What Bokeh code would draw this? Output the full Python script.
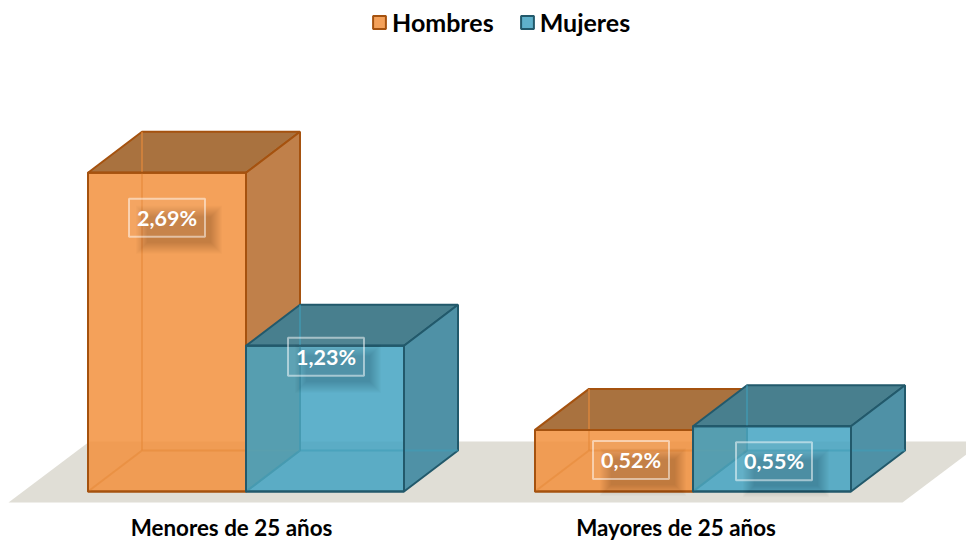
import numpy as np
from bokeh.plotting import figure
from bokeh.models import ColumnDataSource, Range1d, Legend, LegendItem
from bokeh.core.properties import value
from bokeh.embed import file_html
from bokeh.resources import INLINE

categories = ["Menores de 25 años", "Mayores de 25 años"]
hombres = [2.69, 0.52]
mujeres = [1.23, 0.55]
hombres_labels = ["2,69%", "0,52%"]
mujeres_labels = ["1,23%", "0,55%"]

W, H = 966, 541
PXX = 1 / 447.0      # one screen pixel in x data units (one unit = distance between groups)
PXY = 1 / 118.5      # one screen pixel in y data units
BAR = 158 * PXX
DX, DY = 54 * PXX, 41 * PXY
SHIFT = 15 * PXX     # boxes sit right of the category label, perspective of the floor
FONT = "Lato"

# group 0 is at screen pixel 230.5; value 0 is at screen pixel 491
x0 = -230.5 * PXX
y1 = 491 * PXY
p = figure(width=W, height=H, output_backend="svg", toolbar_location=None,
           x_range=Range1d(x0, x0 + W * PXX), y_range=Range1d(y1 - H * PXY, y1),
           x_axis_location=None, y_axis_location=None, min_border=0,
           outline_line_color=None, background_fill_color=None, border_fill_color=None)
p.grid.visible = False

# floor
fl, fr = -222.5 * PXX, (902 - 230.5) * PXX
fb, ft = -11 * PXY, 50 * PXY
fdx = 81 * PXX
p.patch([fl, fl + fdx, fr + fdx, fr], [fb, ft, ft, fb], fill_color="#E0DED6", line_color=None)


def box(vals, lefts, front, top, side, edge, inner):
    v = np.array(vals)
    l = np.array(lefts)
    r = l + BAR
    n = len(v)
    z = np.zeros(n)
    src = ColumnDataSource(dict(left=l, right=r, bottom=z, top=v))
    # top and side faces
    p.patches([[a, a + DX, b + DX, b] for a, b in zip(l, r)],
              [[t, t + DY, t + DY, t] for t in v],
              fill_color=top, fill_alpha=1, line_color=edge, line_width=2)
    p.patches([[b, b + DX, b + DX, b] for b in r],
              [[t, t + DY, DY, 0] for t in v],
              fill_color=side, fill_alpha=1, line_color=edge, line_width=2)
    front_r = p.quad(left="left", right="right", bottom="bottom", top="top", source=src,
                     fill_color=front, fill_alpha=0.85, line_color=edge, line_width=2)
    # hidden edges seen through the faces
    xs, ys = [], []
    for i in range(n):
        xs += [[l[i] + DX, l[i] + DX], [l[i], l[i] + DX, r[i] + DX]]
        ys += [[DY, v[i] + DY], [0, DY, DY]]
    p.multi_line(xs, ys, line_color=inner, line_width=2, line_alpha=0.6)
    p.quad(left="left", right="right", bottom="bottom", top="top", source=src,
           fill_color=None, line_color=edge, line_width=2)
    return front_r


lefts_h = [i + SHIFT - BAR for i in range(2)]
lefts_m = [i + SHIFT for i in range(2)]
r_h = box(hombres, lefts_h, "#F2913D", "#A9723F", "#C0804A", "#A5520F", "#E68A3A")
r_m = box(mujeres, lefts_m, "#43A3C2", "#487F8E", "#4F91A6", "#22596B", "#3F9DB8")


def tag(xc, yc, text):
    hw, hh = 38 * PXX, 19 * PXY
    for g in range(12):
        gx, gy = (g - 2) * PXX, (g - 2) * PXY
        p.quad(left=[xc - hw + (12 * PXX) - gx + 4 * PXX], right=[xc + hw + 12 * PXX + gx - 4 * PXX],
               bottom=[yc - hh - 12 * PXY - gy + 4 * PXY], top=[yc + hh - 12 * PXY + gy - 4 * PXY],
               fill_color="#000000", fill_alpha=0.014, line_color=None)
    p.quad(left=[xc - hw], right=[xc + hw], bottom=[yc - hh], top=[yc + hh],
           fill_color="#FFFFFF", fill_alpha=0.05, line_color="#FFFFFF", line_alpha=0.5, line_width=2)
    p.text([xc], [yc], text=[text], text_color="#FFFFFF", text_align="center", text_baseline="middle",
           text_font=value(FONT), text_font_style="bold", text_font_size="21.5px")


# label placement: (x nudge from bar centre in px, y below the bar top in px)
nudge_h = [(0, 45), (17, 30)]
nudge_m = [(1, 11), (2, 35)]
for vals, lefts, labs, nudges in ((hombres, lefts_h, hombres_labels, nudge_h),
                                  (mujeres, lefts_m, mujeres_labels, nudge_m)):
    for v, l, t, (nx, ny) in zip(vals, lefts, labs, nudges):
        tag(l + BAR / 2 + nx * PXX, v - ny * PXY, t)

# category labels, kept just inside the bottom edge of the page
label_nudge = [0.5, -2]
p.text([i + n * PXX for i, n in enumerate(label_nudge)], [-36 * PXY] * len(categories), text=categories,
       text_color="#000000", text_align="center", text_baseline="middle",
       text_font=value(FONT), text_font_style="bold", text_font_size="22.4px")

legend = Legend(items=[LegendItem(label="Hombres", renderers=[r_h]),
                       LegendItem(label="Mujeres", renderers=[r_m])],
                orientation="horizontal", location=(371, 504),
                glyph_width=16, glyph_height=16, label_standoff=5, spacing=25,
                padding=0, margin=0, border_line_color=None, background_fill_alpha=0,
                label_text_font=FONT, label_text_font_style="bold",
                label_text_font_size="25px", label_text_color="#000000")
p.add_layout(legend)

open("out.html", "w").write(file_html(p, INLINE))
